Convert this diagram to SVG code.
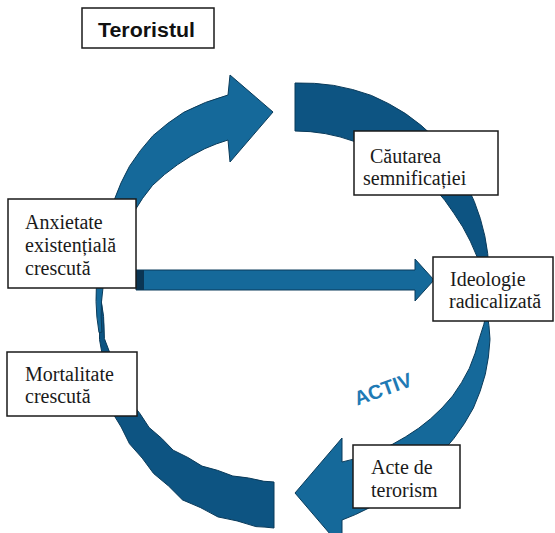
<svg xmlns="http://www.w3.org/2000/svg" width="555" height="533" viewBox="0 0 555 533">
<style>
.light{fill:#15699a;stroke:#0a3b5a;stroke-width:1}
.dark{fill:#0d5482;stroke:#093a5a;stroke-width:1}
.box{fill:#ffffff;stroke:#1a1a1a;stroke-width:1.5}
.lbl{font-family:"Liberation Serif","Times New Roman",serif;font-size:20px;fill:#1a1a1a}
.title{font-family:"Liberation Sans",Arial,sans-serif;font-size:19.5px;font-weight:bold;fill:#111}
.activ{font-family:"Liberation Sans",Arial,sans-serif;font-size:20px;font-weight:bold;fill:#1f7ab5}
</style>
<rect width="555" height="533" fill="#ffffff"/>
<g id="connectors">
<path id="arc-top-right" class="dark" d="M 295 83 A 222 222 0 0 1 333.7 85.4 A 223 223 0 0 1 371.3 95.4 A 222 222 0 0 1 405.5 113.6 A 220 220 0 0 1 435.1 138 A 215 215 0 0 1 457.4 168.7 A 210 210 0 0 1 474.3 201.5 A 204 204 0 0 1 484.8 235.9 A 200 200 0 0 1 489 270.8 A 196 196 0 0 1 489 305 A 192 192 0 0 0 482.1 272 A 188 188 0 0 0 470.3 241.2 A 185 185 0 0 0 453.9 213.3 A 183 183 0 0 0 434.4 188 A 180 180 0 0 0 410.1 167.9 A 177 177 0 0 0 383 152.6 A 175 175 0 0 0 354.5 141.5 A 174 174 0 0 0 325.2 133.6 A 174 174 0 0 0 295 131 Z"/>
<path id="arc-bottom-left" class="dark" d="M 274 528 A 225 225 0 0 0 255.9 526.6 A 225 225 0 0 0 217.9 516.9 A 225 225 0 0 0 182.5 499.9 A 222 222 0 0 0 153.6 473.5 A 218 218 0 0 0 129.5 443.8 A 214 214 0 0 0 111.4 411 A 207 207 0 0 0 104.2 374.4 A 200 200 0 0 0 99.5 339.5 A 198 198 0 0 0 97.3 294.6 L 100.3 294.8 A 195 195 0 0 1 104.4 338.6 A 192 192 0 0 1 115 370.5 A 191 191 0 0 1 129.6 400.5 A 191 191 0 0 1 149.1 427.5 A 190 190 0 0 1 173.2 450.2 A 188 188 0 0 1 202 466.1 A 184 184 0 0 1 232.8 476 A 180 180 0 0 1 263.9 481.3 A 178 178 0 0 1 274 482 Z"/>
<path id="arrow-top-left" class="light" d="M 99 332.6 A 198 198 0 0 1 98 270.3 A 202 202 0 0 1 103.3 235.2 A 206 206 0 0 1 114 200.5 A 212 212 0 0 1 129.5 166.2 A 218 218 0 0 1 152.9 135.7 A 222 222 0 0 1 183.75 112.3 A 222 222 0 0 1 228 95 L 230 75 L 273 112 L 230 162 L 228 140 A 179 179 0 0 0 204.75 148.7 A 182 182 0 0 0 177.4 164.8 A 185 185 0 0 0 152.5 185.4 A 186 186 0 0 0 133.9 212 A 188 188 0 0 0 117.4 240.4 A 191 191 0 0 0 105.9 271.7 A 194 194 0 0 0 101.9 332.1 Z"/>
<path id="arrow-bottom-right" class="light" d="M 486.9 311.7 A 196 196 0 0 1 490 339.4 A 200 200 0 0 1 485.3 374.3 A 204 204 0 0 1 473.4 408 A 207 207 0 0 1 453.9 438.4 A 208 208 0 0 1 429.3 465.1 A 210 210 0 0 1 401 488.6 A 214 214 0 0 1 368.9 508 A 218 218 0 0 1 342 520 L 342 548 L 295 493 L 342 438 L 342 462 A 166 166 0 0 0 379 450.5 A 170 170 0 0 0 405.6 436.8 A 174 174 0 0 0 430.6 418.8 A 180 180 0 0 0 452.6 396 A 184 184 0 0 0 469.3 368.4 A 186 186 0 0 0 479.6 337.6 A 189 189 0 0 0 486.9 311.7 Z"/>
<path id="arrow-horizontal" class="light" d="M 136 270 L 415 270 L 415 259 L 434 280 L 415 301 L 415 290 L 136 290 Z"/>
<rect x="136" y="270" width="8" height="20" fill="#0b3553"/>
<text class="activ" transform="translate(383,389) rotate(-20)" x="0" y="7" text-anchor="middle">ACTIV</text>
</g>
<g id="node-teroristul">
<rect class="box" x="82" y="8" width="132" height="40" stroke-width="2"/>
<text class="title" x="98" y="37" textLength="97" lengthAdjust="spacingAndGlyphs">Teroristul</text>
</g>
<g id="node-cautarea">
<rect class="box" x="354" y="131" width="144" height="64"/>
<text class="lbl" x="370" y="163">Căutarea</text>
<text class="lbl" x="363" y="185">semnificației</text>
</g>
<g id="node-anxietate">
<rect class="box" x="8" y="199" width="128" height="89"/>
<text class="lbl" x="25" y="229">Anxietate</text>
<text class="lbl" x="25" y="252">existențială</text>
<text class="lbl" x="25" y="275">crescută</text>
</g>
<g id="node-ideologie">
<rect class="box" x="433" y="257" width="120" height="64"/>
<text class="lbl" x="450" y="286">Ideologie</text>
<text class="lbl" x="449" y="308">radicalizată</text>
</g>
<g id="node-mortalitate">
<rect class="box" x="7" y="352" width="130" height="64"/>
<text class="lbl" x="25" y="381">Mortalitate</text>
<text class="lbl" x="25" y="403">crescută</text>
</g>
<g id="node-acte">
<rect class="box" x="353" y="445" width="107" height="63"/>
<text class="lbl" x="371" y="474">Acte de</text>
<text class="lbl" x="371" y="497">terorism</text>
</g>
</svg>
